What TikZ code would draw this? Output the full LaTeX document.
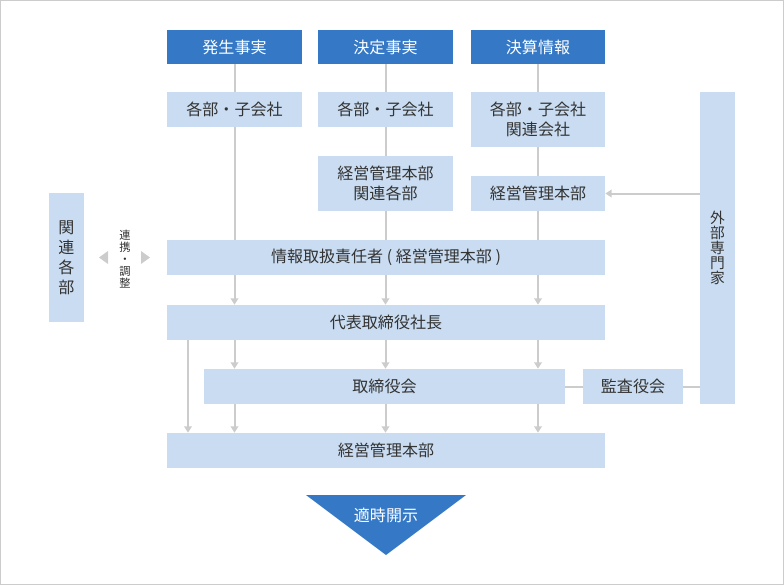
\documentclass[tikz,border=0pt]{standalone}
\usepackage{fontspec}
\setmainfont{Noto Sans CJK JP}
\usetikzlibrary{arrows.meta,backgrounds}

\definecolor{hdrblue}{RGB}{52,120,198}
\definecolor{boxblue}{RGB}{201,220,241}
\definecolor{linegray}{RGB}{204,204,204}
\definecolor{txtgray}{RGB}{51,51,51}

\tikzset{
  hdr/.style={fill=hdrblue, text=white, minimum width=33.75mm, minimum height=8.5mm, inner sep=0pt,
    font=\fontsize{11.4pt}{14.2pt}\selectfont},
  pane/.style={fill=boxblue, text=txtgray, minimum width=33.75mm, minimum height=8.75mm, inner sep=0pt,
    align=center, font=\fontsize{11.4pt}{14.2pt}\selectfont},
  wide/.style={pane, minimum width=109.5mm},
  link/.style={draw=linegray, line width=0.5mm},
  flow/.style={link, -{Triangle[width=1.9mm,length=1.6mm]}},
}

\begin{document}
\begin{tikzpicture}[x=0.25mm, y=-0.25mm]

  \useasboundingbox (0,0) rectangle (784,585);
  \draw[linegray, line width=0.25mm] (0.5,0.5) rectangle (783.5,584.5);

  % Headers
  \node[hdr] (hdr1) at (234.5,47) {発生事実};
  \node[hdr] (hdr2) at (385.5,47) {決定事実};
  \node[hdr, minimum width=33.5mm] (hdr3) at (538,47) {決算情報};

  % Sources
  \node[pane] (sub1) at (234.5,109.5) {各部・子会社};
  \node[pane] (sub2) at (385.5,109.5) {各部・子会社};
  \node[pane, minimum width=33.5mm, minimum height=13.75mm] (sub3) at (538,119.5) {各部・子会社\\関連会社};
  \node[pane, minimum height=13.75mm] (mg2) at (385.5,183.5) {経営管理本部\\関連各部};
  \node[pane, minimum width=33.5mm] (mg3) at (538,193.5) {経営管理本部};

  % Main stages
  \node[wide] (info) at (386,257.5) {情報取扱責任者 ( 経営管理本部 )};
  \node[wide] (rep) at (386,322.5) {代表取締役社長};
  \node[pane, minimum width=90.25mm] (board) at (384.5,386.5) {取締役会};
  \node[pane, minimum width=25mm] (audit) at (633,386.5) {監査役会};
  \node[wide] (mgmt) at (386,450.5) {経営管理本部};

  % Side boxes
  \node[pane, minimum width=8.75mm, minimum height=78mm, font=\fontsize{10.5pt}{10.7pt}\selectfont] (ext) at (717.5,248) {外\\部\\専\\門\\家};
  \node[pane, minimum width=8.75mm, minimum height=32.25mm] (rel) at (66.5,257.5) {関\\連\\各\\部};
  \node[text=txtgray, align=center, inner sep=0pt, font=\fontsize{8pt}{8.5pt}\selectfont] (coop) at (125,259) {連\\携\\・\\調\\整};
  \fill[linegray] (99,257.5) -- (108,251) -- (108,264) -- cycle;
  \fill[linegray] (150,257.5) -- (141,251) -- (141,264) -- cycle;

  % Disclosure
  \fill[hdrblue] (306,495) -- (466,495) -- (386,555) -- cycle;
  \node[text=white, font=\fontsize{11.4pt}{14.2pt}\selectfont] (disc) at (386,515) {適時開示};

  \coordinate (lft) at (188,0);

  \begin{scope}[on background layer]
    % Feeds
    \draw[link] (hdr1.south) -- (hdr1.south |- info.north);
    \draw[link] (hdr2.south) -- (hdr2.south |- info.north);
    \draw[link] (hdr3.south) -- (hdr3.south |- info.north);
  \end{scope}

  % Flow down
  \foreach \col in {hdr1,hdr2,hdr3} {
    \draw[flow] (info.south -| \col.south) -- (rep.north -| \col.south);
    \draw[flow] (rep.south -| \col.south) -- (board.north -| \col.south);
    \draw[flow] (board.south -| \col.south) -- (mgmt.north -| \col.south);
  }
  \draw[flow] (rep.south -| lft) -- (mgmt.north -| lft);

  % Experts and auditors
  \draw[flow] (ext.west |- mg3.east) -- (mg3.east);
  \draw[link] (board.east) -- (audit.west);
  \draw[link] (audit.east) -- (audit.east -| ext.west);

\end{tikzpicture}
\end{document}
